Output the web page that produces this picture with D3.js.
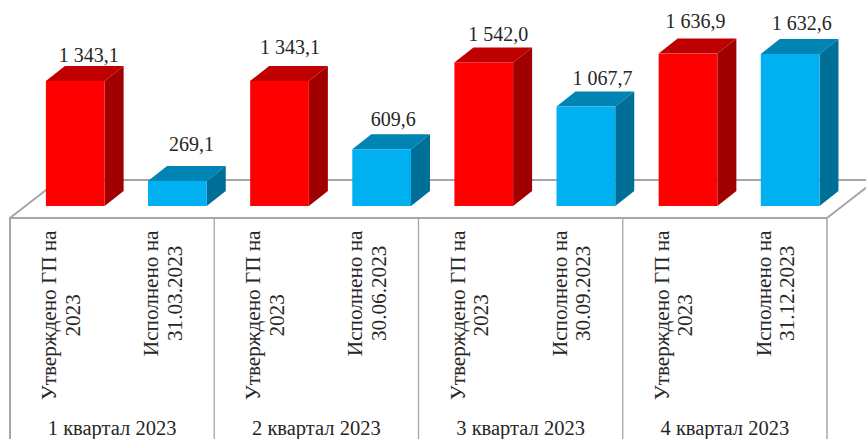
<!DOCTYPE html>
<html lang="ru">
<head>
<meta charset="utf-8">
<script src="https://cdn.jsdelivr.net/npm/d3@7"></script>
<style>
html,body{margin:0;padding:0;background:#fff;overflow:hidden}
svg{display:block}
text{font-family:"Liberation Serif",serif;fill:#262626}
</style>
</head>
<body>
<svg id="chart" width="866" height="439"></svg>
<script>
const quarters = ["1 квартал 2023","2 квартал 2023","3 квартал 2023","4 квартал 2023"];
const categoryLines = [
  ["Утверждено ГП на","2023"],["Исполнено на","31.03.2023"],
  ["Утверждено ГП на","2023"],["Исполнено на","30.06.2023"],
  ["Утверждено ГП на","2023"],["Исполнено на","30.09.2023"],
  ["Утверждено ГП на","2023"],["Исполнено на","31.12.2023"]
];
const values = [1343.1,269.1,1343.1,609.6,1542.0,1067.7,1636.9,1632.6];
const valueLabels = ["1 343,1","269,1","1 343,1","609,6","1 542,0","1 067,7","1 636,9","1 632,6"];
const labelShiftX = [4,4.5,1,2,5,7,-2,2];
const labelLift = [4,15,12,8,6,6.5,10.6,9];

const W=866,H=439;
const floorL=10,floorR=827,floorFront=218,floorBack=180,base=206;
const depthX=19,depthY=15,backX=49;
const barOffset=14.2;
const palette=[{front:"#ff0000",top:"#bf0000",side:"#a00000"},{front:"#00b0f0",top:"#0084b4",side:"#006f97"}];
const idx=d3.range(values.length);

const x=d3.scaleBand().domain(idx).range([floorL,floorR]).paddingInner(0.425).paddingOuter(0.2125);
const xCenter=i=>floorL+(floorR-floorL)/8*(i+0.5);
const y=d3.scaleLinear().domain([0,1800]).range([base,base-1800*0.0931]);
const bw=x.bandwidth();
const svg=d3.select("#chart");

// floor
const lineColor="#a6a6a6";
const floor=svg.append("g").attr("fill","none").attr("stroke",lineColor);
floor.append("path").attr("stroke-width",2)
  .attr("d",d3.line()([[floorL,H],[floorL,floorFront],[floorR,floorFront],[floorR+backX,floorBack],[floorL+backX,floorBack],[floorL,floorFront]]));
floor.append("path").attr("stroke-width",1.5)
  .attr("d",d3.line()([[floorR,floorFront],[floorR,H]]));
floor.selectAll("line.sep").data([1,2,3]).join("line").attr("class","sep")
  .attr("stroke-width",1.3)
  .attr("x1",d=>floorL+(floorR-floorL)/4*d).attr("x2",d=>floorL+(floorR-floorL)/4*d)
  .attr("y1",floorFront).attr("y2",H);

// bars
const bars=svg.append("g").selectAll("g").data(idx).join("g");
const bx=i=>x(i)+barOffset;
bars.append("path").attr("fill",i=>palette[i%2].top)
  .attr("d",i=>{const l=bx(i),t=y(values[i]);return d3.line()([[l,t],[l+depthX,t-depthY],[l+bw+depthX,t-depthY],[l+bw,t]])+"Z";});
bars.append("path").attr("fill",i=>palette[i%2].side)
  .attr("d",i=>{const r=bx(i)+bw,t=y(values[i]);return d3.line()([[r,t],[r+depthX,t-depthY],[r+depthX,base-depthY],[r,base]])+"Z";});
bars.append("rect").attr("fill",i=>palette[i%2].front)
  .attr("x",bx).attr("width",bw).attr("y",i=>y(values[i])).attr("height",i=>base-y(values[i]));

// value labels
svg.append("g").selectAll("text").data(idx).join("text")
  .attr("font-size",20).attr("text-anchor","middle")
  .attr("x",i=>bx(i)+bw/2+depthX/2+labelShiftX[i])
  .attr("y",i=>y(values[i])-depthY-labelLift[i])
  .text(i=>valueLabels[i]);

// category labels (rotated, two lines, top aligned block)
const topY=230.5;
const cats=svg.append("g").selectAll("g").data(idx).join("g");
cats.each(function(i){
  const g=d3.select(this);
  const ts=g.selectAll("text").data(categoryLines[i]).join("text")
    .attr("font-size",21.2).attr("text-anchor","middle").text(d=>d);
  const maxLen=d3.max(ts.nodes(),n=>n.getComputedTextLength());
  const cy=topY+maxLen/2;
  ts.attr("transform",(d,k)=>`translate(${xCenter(i)+(k?18.5:-5)},${cy}) rotate(-90)`);
});

// quarter labels
svg.append("g").selectAll("text").data(quarters).join("text")
  .attr("font-size",20.5).attr("text-anchor","middle")
  .attr("x",(d,i)=>floorL+(floorR-floorL)/4*(i+0.5)).attr("y",435)
  .text(d=>d);
</script>
</body>
</html>
